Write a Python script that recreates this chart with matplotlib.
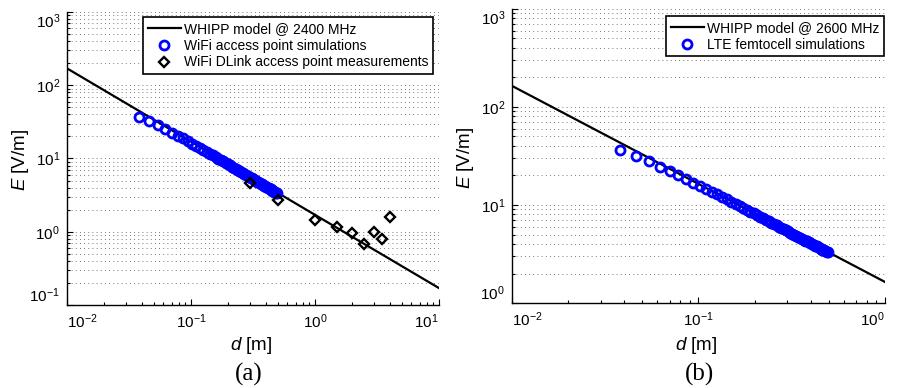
import matplotlib
matplotlib.use('Agg')
import matplotlib.pyplot as plt
from matplotlib.ticker import LogLocator, NullFormatter

plt.rcParams['font.family'] = 'Liberation Sans'
plt.rcParams['mathtext.fontset'] = 'custom'
plt.rcParams['mathtext.rm'] = 'Liberation Sans'
plt.rcParams['mathtext.it'] = 'Liberation Sans:italic'

# WHIPP model lines (E = k/d)
whipp_d_a = [0.01, 10.0]
whipp_e_a = [170.0, 0.17]
whipp_d_b = [0.01, 1.0]
whipp_e_b = [164.0, 1.64]

# simulated distances (m), shared by both panels
sim_d = [0.038, 0.046, 0.054, 0.062, 0.070, 0.078, 0.086, 0.094, 0.102, 0.110,
         0.118, 0.126, 0.134, 0.142, 0.150, 0.158, 0.166, 0.174, 0.182, 0.190,
         0.198, 0.206, 0.214, 0.222, 0.230, 0.238, 0.246, 0.254, 0.262, 0.270,
         0.278, 0.286, 0.294, 0.302, 0.310, 0.318, 0.326, 0.334, 0.342, 0.350,
         0.358, 0.366, 0.374, 0.382, 0.390, 0.398, 0.406, 0.414, 0.422, 0.430,
         0.438, 0.446, 0.454, 0.462, 0.470, 0.478, 0.486, 0.494]

# (a) WiFi access point simulations, E [V/m]
wifi_sim_e = [36.5, 32.3, 28.4, 25.1, 22.5, 20.5, 18.8, 17.2, 16.0, 14.9,
              14.0, 13.1, 12.3, 11.66, 11.04, 10.49, 9.98, 9.52, 9.10, 8.72,
              8.36, 8.04, 7.74, 7.46, 7.20, 6.96, 6.73, 6.52, 6.32, 6.13,
              5.96, 5.79, 5.63, 5.49, 5.34, 5.21, 5.08, 4.96, 4.85, 4.73,
              4.63, 4.53, 4.43, 4.34, 4.24, 4.16, 4.08, 4.00, 3.93, 3.86,
              3.78, 3.71, 3.65, 3.58, 3.52, 3.47, 3.41, 3.36]

# (a) WiFi DLink measurements
meas_d = [0.3, 0.5, 1.0, 1.5, 2.0, 2.5, 3.0, 3.5, 4.0]
meas_e = [4.7, 2.7, 1.45, 1.17, 0.97, 0.69, 1.0, 0.79, 1.6]

# (b) LTE femtocell simulations, E [V/m]
lte_sim_e = [36.0, 31.7, 27.8, 24.6, 22.1, 20.1, 18.4, 16.9, 15.7, 14.6,
             13.7, 12.8, 12.1, 11.43, 10.82, 10.28, 9.78, 9.33, 8.92, 8.55,
             8.20, 7.88, 7.59, 7.31, 7.06, 6.82, 6.60, 6.39, 6.20, 6.01,
             5.84, 5.68, 5.52, 5.38, 5.24, 5.11, 4.98, 4.86, 4.75, 4.64,
             4.54, 4.44, 4.34, 4.25, 4.16, 4.08, 4.00, 3.92, 3.85, 3.78,
             3.71, 3.64, 3.58, 3.51, 3.45, 3.40, 3.34, 3.29]

xticks_a = [0.01, 0.1, 1, 10]
xlabels_a = [r'$10^{-2}$', r'$10^{-1}$', r'$10^{0}$', r'$10^{1}$']
yticks_a = [0.1, 1, 10, 100, 1000]
ylabels_a = [r'$10^{-1}$', r'$10^{0}$', r'$10^{1}$', r'$10^{2}$', r'$10^{3}$']
xticks_b = [0.01, 0.1, 1]
xlabels_b = [r'$10^{-2}$', r'$10^{-1}$', r'$10^{0}$']
yticks_b = [1, 10, 100, 1000]
ylabels_b = [r'$10^{0}$', r'$10^{1}$', r'$10^{2}$', r'$10^{3}$']


def style_axes(ax, xticks, xlabels, yticks, ylabels, xlab_y):
    ax.set_xscale('log')
    ax.set_yscale('log')
    ax.set_xlim(xticks[0], xticks[-1])
    ax.set_ylim(yticks[0], yticks[-1])
    for s in ['top', 'right']:
        ax.spines[s].set_visible(False)
    for s in ['left', 'bottom']:
        ax.spines[s].set_linewidth(1.0)
    ax.set_xticks(xticks, xlabels)
    ax.set_yticks(yticks, ylabels)
    ax.xaxis.set_minor_locator(LogLocator(base=10, subs=range(2, 10), numticks=20))
    ax.yaxis.set_minor_locator(LogLocator(base=10, subs=range(2, 10), numticks=20))
    ax.xaxis.set_minor_formatter(NullFormatter())
    ax.yaxis.set_minor_formatter(NullFormatter())
    ax.tick_params(which='both', direction='in', labelsize=11, width=0.8)
    ax.tick_params(which='major', length=4, pad=5)
    ax.tick_params(which='minor', length=2.5)
    ax.yaxis.grid(True, which='both', linestyle=(0, (1, 4)), color='0.3', linewidth=0.6)
    ax.xaxis.grid(False, which='both')
    ax.set_axisbelow(True)
    # end labels aligned like the original
    yt = ax.yaxis.get_major_ticks()
    yt[0].label1.set_va('bottom')
    yt[-1].label1.set_va('top')
    xt = ax.xaxis.get_major_ticks()
    xt[0].label1.set_ha('left')
    xt[-1].label1.set_ha('right')
    ax.set_xlabel(r'$d$ [m]', fontsize=13.5, va='center')
    ax.set_ylabel(r'$E$ [V/m]', fontsize=13.5, va='center')
    ax.xaxis.set_label_coords(0.495, xlab_y)
    ax.yaxis.set_label_coords(-0.126, 0.495)


def add_legend(ax, anchor):
    leg = ax.legend(loc='upper right', bbox_to_anchor=anchor, fontsize=10,
                    fancybox=False, framealpha=1, edgecolor='black',
                    handlelength=2.4, handletextpad=0.2, borderpad=0.35,
                    labelspacing=0.2, borderaxespad=0)
    leg.get_frame().set_linewidth(1.2)
    return leg


fig = plt.figure(figsize=(8.97, 3.88), dpi=100)
ax1 = fig.add_axes([0.0747, 0.214, 0.4147, 0.755])
ax2 = fig.add_axes([0.5708, 0.219, 0.4158, 0.758])

# panel (a)
ax1.plot(whipp_d_a, whipp_e_a, color='black', linewidth=1.6, label='WHIPP model @ 2400 MHz')
ax1.plot(sim_d, wifi_sim_e, linestyle='none', marker='o', markersize=6.5,
         markerfacecolor='none', markeredgecolor='blue', markeredgewidth=2,
         label='WiFi access point simulations')
ax1.plot(meas_d, meas_e, linestyle='none', marker='D', markersize=5.5,
         markerfacecolor='none', markeredgecolor='black', markeredgewidth=1.7,
         label='WiFi DLink access point measurements')
style_axes(ax1, xticks_a, xlabels_a, yticks_a, ylabels_a, -0.137)
add_legend(ax1, (0.984, 0.983))

# panel (b)
ax2.plot(whipp_d_b, whipp_e_b, color='black', linewidth=1.6, label='WHIPP model @ 2600 MHz')
ax2.plot(sim_d, lte_sim_e, linestyle='none', marker='o', markersize=6.5,
         markerfacecolor='none', markeredgecolor='blue', markeredgewidth=2,
         label='LTE femtocell simulations')
style_axes(ax2, xticks_b, xlabels_b, yticks_b, ylabels_b, -0.143)
add_legend(ax2, (0.997, 0.976))

fig.text(0.277, 0.036, '(a)', fontsize=18, family='Liberation Serif', ha='center', va='center')
fig.text(0.780, 0.036, '(b)', fontsize=18, family='Liberation Serif', ha='center', va='center')

fig.savefig('out.png', dpi=100)
